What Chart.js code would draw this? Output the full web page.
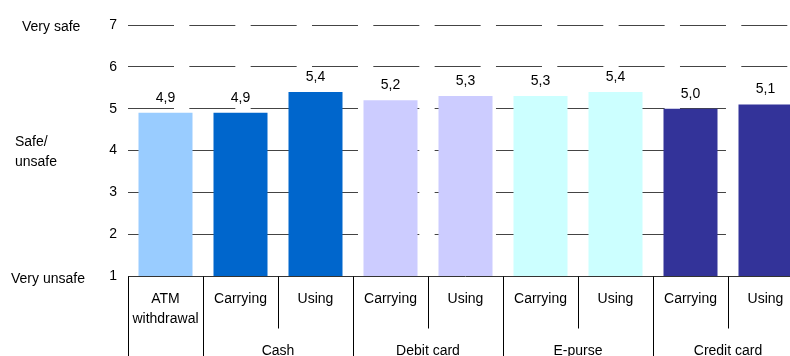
<!DOCTYPE html>
<html>
<head>
<meta charset="utf-8">
<script src="https://cdn.jsdelivr.net/npm/chart.js@4"></script>
<style>
  html, body { margin: 0; padding: 0; background: #fff; overflow: hidden; }
  #wrap { position: relative; width: 810px; height: 356px; }
</style>
</head>
<body>
<div id="wrap"><canvas id="safetyChart"></canvas></div>
<script>
// categories along the x axis (second row of the axis)
const subLabels = [['ATM', 'withdrawal'], 'Carrying', 'Using', 'Carrying', 'Using', 'Carrying', 'Using', 'Carrying', 'Using'];
// group names (third row) and which group each bar belongs to
const groupNames = ['', 'Cash', 'Debit card', 'E-purse', 'Credit card'];
const groupOf = [0, 1, 1, 2, 2, 3, 3, 4, 4];
// mean safety rating, 1 = very unsafe .. 7 = very safe
const ratings = [4.9, 4.9, 5.4, 5.2, 5.3, 5.3, 5.4, 5.0, 5.1];
const groupColors = ['#99CCFF', '#0066CC', '#CCCCFF', '#CCFFFF', '#333399'];
// verbal anchors on the left side
const scaleWords = [
    { value: 7, lines: ['Very safe'], x: 22, dy: [1] },
    { value: 4, lines: ['Safe/', 'unsafe'], x: 15, dy: [-10, 10] },
    { value: 1, lines: ['Very unsafe'], x: 11, dy: [2] }
];

const FONT = "'Liberation Sans', Arial, sans-serif";
Chart.defaults.font.family = FONT;
Chart.defaults.font.size = 14;
Chart.defaults.color = '#000';

const decorations = { // value labels, left-hand scale words and the grouped x axis
    id: 'decorations',
    afterDatasetsDraw(chart) {
        const ctx = chart.ctx;
        const xs = chart.scales.x;
        const ys = chart.scales.y;
        const area = chart.chartArea;
        const n = subLabels.length;
        const cw = (area.right - area.left) / n;

        ctx.save();
        ctx.font = '14px ' + FONT;
        ctx.fillStyle = '#000';

        // value labels above bars
        ctx.textAlign = 'center';
        ctx.textBaseline = 'alphabetic';
        chart.getDatasetMeta(0).data.forEach((bar, i) => {
            ctx.fillText(ratings[i].toFixed(1).replace('.', ','), bar.x, bar.y - 11);
        });

        // scale words
        ctx.textAlign = 'left';
        scaleWords.forEach(w => {
            const y = ys.getPixelForValue(w.value);
            w.lines.forEach((t, k) => ctx.fillText(t, w.x, y + w.dy[k] + 5));
        });

        // axis line
        const y0 = Math.round(area.bottom) + 0.5;
        ctx.strokeStyle = '#333';
        ctx.lineWidth = 1;
        ctx.beginPath();
        ctx.moveTo(area.left, y0);
        ctx.lineTo(area.right, y0);
        ctx.stroke();

        // separators: full height between groups, shorter inside a group
        ctx.strokeStyle = '#000';
        for (let i = 0; i <= n; i++) {
            const x = Math.round(xs.getPixelForValue(i) - cw / 2) + 0.5;
            const full = i === 0 || i === n || groupOf[i] !== groupOf[i - 1];
            ctx.beginPath();
            ctx.moveTo(x, y0);
            ctx.lineTo(x, full ? chart.height : y0 + 52);
            ctx.stroke();
        }

        // category labels
        ctx.textAlign = 'center';
        subLabels.forEach((lab, i) => {
            const x = xs.getPixelForValue(i);
            const lines = Array.isArray(lab) ? lab : [lab];
            lines.forEach((t, k) => ctx.fillText(t, x, y0 + 26 + k * 20));
        });

        // group labels
        groupNames.forEach((g, gi) => {
            if (!g) return;
            const idx = groupOf.map((v, i) => v === gi ? i : -1).filter(i => i >= 0);
            const x = (xs.getPixelForValue(idx[0]) + xs.getPixelForValue(idx[idx.length - 1])) / 2;
            ctx.fillText(g, x, y0 + 78);
        });
        ctx.restore();
    }
};

const ctx = document.getElementById('safetyChart').getContext('2d');

const safetyChart = new Chart(ctx, {
    type: 'bar',
    data: {
        labels: subLabels.map(l => Array.isArray(l) ? l.join(' ') : l),
        datasets: [{
            label: 'Safety',
            data: ratings,
            backgroundColor: groupOf.map(g => groupColors[g]),
            borderWidth: 0,
            categoryPercentage: 0.72,
            barPercentage: 1
        }]
    },
    options: {
        responsive: true,
        maintainAspectRatio: false,
        animation: false,
        layout: { padding: { top: 25, right: 7, left: 0, bottom: 0 } },
        plugins: {
            legend: { display: false },
            tooltip: { enabled: false }
        },
        scales: {
            x: {
                ticks: { display: false },
                grid: { display: false },
                border: { display: false },
                afterFit: function(scale) { scale.height = 80; }
            },
            y: {
                min: 1,
                max: 7,
                ticks: { stepSize: 1, padding: 11, font: { size: 14 } },
                grid: {
                    drawTicks: false,
                    color: function(c) { return c.tick && c.tick.value === 1 ? 'rgba(0,0,0,0)' : '#444'; }
                },
                border: { display: false, dash: [46, 15.33] },
                afterFit: function(scale) { scale.width = 128; }
            }
        }
    },
    plugins: [decorations]
});
</script>
</body>
</html>
